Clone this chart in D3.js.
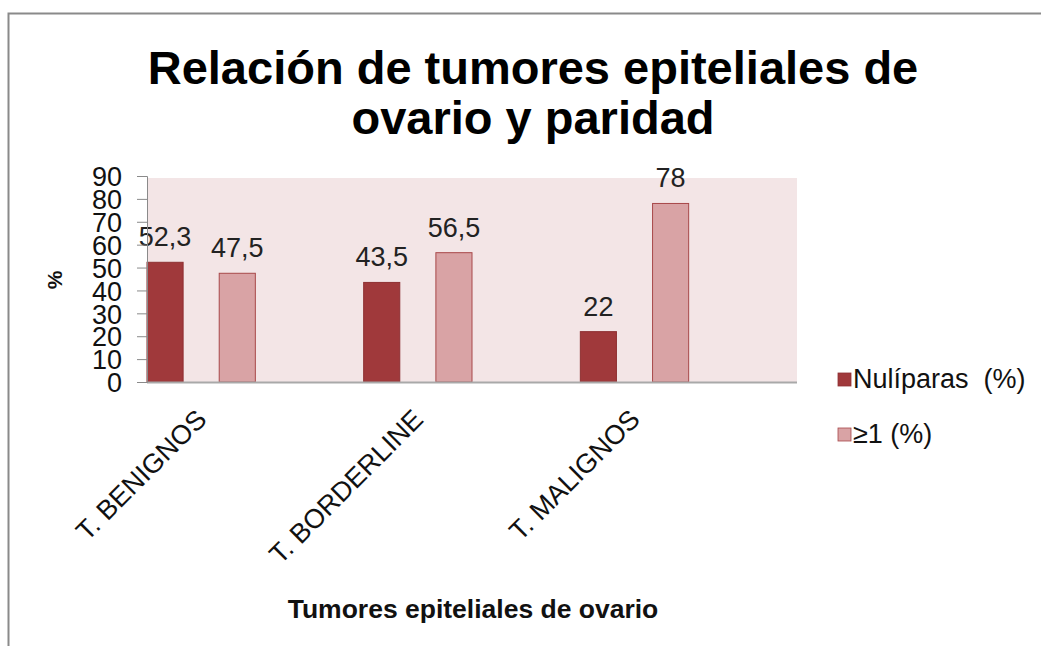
<!DOCTYPE html>
<html>
<head>
<meta charset="utf-8">
<script src="https://cdn.jsdelivr.net/npm/d3@7"></script>
<style>
  body { margin: 0; background: #fff; }
  svg text { font-family: "Liberation Sans", Arial, sans-serif; white-space: pre; }
</style>
</head>
<body>
<div id="chart"></div>
<script>
const categories = ['T. BENIGNOS', 'T. BORDERLINE', 'T. MALIGNOS'];
const seriesNames = ['Nulíparas  (%)', '≥1 (%)'];
const nuliparas = [52.3, 43.5, 22];
const unoOMas = [47.5, 56.5, 78];
const valueLabels = [['52,3', '43,5', '22'], ['47,5', '56,5', '78']];
const yTicks = [0, 10, 20, 30, 40, 50, 60, 70, 80, 90];

const colors = ['#A0393B', '#D9A3A5'];
const strokes = ['#8E3032', '#A8484A'];

const width = 1041;
const height = 646;
const plot = { left: 147, right: 797, top: 176, bottom: 382 };

const svg = d3.select('#chart')
  .append('svg')
  .attr('width', width)
  .attr('height', height);

// outer frame (only top and left edges visible)
svg.append('path')
  .attr('d', `M8.5,${height} V13.5 H${width}`)
  .attr('fill', 'none')
  .attr('stroke', '#8a8a8a')
  .attr('stroke-width', 2);

const x0 = d3.scaleBand()
  .domain(categories)
  .range([plot.left, plot.right])
  .padding(0);

const x1 = d3.scaleBand()
  .domain(seriesNames)
  .range([0, x0.bandwidth() / 2])
  .paddingInner(0.5)
  .paddingOuter(0);

const y = d3.scaleLinear()
  .domain([0, 90])
  .range([plot.bottom, plot.top]);

// plot background
svg.append('rect')
  .attr('x', plot.left)
  .attr('y', y(90) + 2)
  .attr('width', plot.right - plot.left)
  .attr('height', y(0) - y(90) - 2)
  .attr('fill', '#F3E5E6');

// bars
const series = [nuliparas, unoOMas];
series.forEach((vals, si) => {
  svg.append('g')
    .selectAll('rect')
    .data(categories)
    .enter()
    .append('rect')
    .attr('x', (c) => x0(c) + x1(seriesNames[si]))
    .attr('y', (c, i) => y(vals[i]))
    .attr('width', x1.bandwidth())
    .attr('height', (c, i) => y(0) - y(vals[i]))
    .attr('fill', colors[si])
    .attr('stroke', strokes[si])
    .attr('stroke-width', 1);

  svg.append('g')
    .selectAll('text')
    .data(categories)
    .enter()
    .append('text')
    .attr('x', (c) => x0(c) + x1(seriesNames[si]) + x1.bandwidth() / 2)
    .attr('y', (c, i) => y(vals[i]) - 16)
    .attr('text-anchor', 'middle')
    .attr('font-size', 27)
    .attr('fill', '#222')
    .text((c, i) => valueLabels[si][i]);
});

// bottom axis line
svg.append('line')
  .attr('x1', plot.left)
  .attr('x2', plot.right)
  .attr('y1', y(0) + 0.5)
  .attr('y2', y(0) + 0.5)
  .attr('stroke', '#a9a9a9')
  .attr('stroke-width', 2);

// y axis
const yAxis = svg.append('g')
  .attr('transform', `translate(${plot.left},0)`)
  .call(d3.axisLeft(y).tickValues(yTicks).tickSize(10).tickPadding(15));
yAxis.select('.domain').attr('stroke', '#8a8a8a');
yAxis.selectAll('.tick line').attr('stroke', '#8a8a8a');
yAxis.selectAll('.tick text')
  .attr('font-size', 27)
  .attr('font-family', '"Liberation Sans", Arial, sans-serif')
  .attr('fill', '#111')
  .attr('dy', '0.36em');

// category labels
svg.append('g')
  .selectAll('text')
  .data(categories)
  .enter()
  .append('text')
  .attr('transform', (c) => `translate(${x0(c) + x0.bandwidth() / 4 + 7},421) rotate(-45)`)
  .attr('text-anchor', 'end')
  .attr('font-size', 27)
  .attr('fill', '#111')
  .text((c) => c);

// y axis title
svg.append('text')
  .attr('transform', 'translate(62,280) rotate(-90)')
  .attr('text-anchor', 'middle')
  .attr('font-size', 21)
  .attr('font-weight', 'bold')
  .attr('fill', '#111')
  .text('%');

// x axis title
svg.append('text')
  .attr('x', 473)
  .attr('y', 618)
  .attr('text-anchor', 'middle')
  .attr('font-size', 26.5)
  .attr('font-weight', 'bold')
  .attr('fill', '#111')
  .text('Tumores epiteliales de ovario');

// title
const titleLines = ['Relación de tumores epiteliales de', 'ovario y paridad'];
svg.append('g')
  .selectAll('text')
  .data(titleLines)
  .enter()
  .append('text')
  .attr('x', 533)
  .attr('y', (d, i) => 84 + i * 50)
  .attr('text-anchor', 'middle')
  .attr('font-size', 47)
  .attr('font-weight', 'bold')
  .attr('fill', '#000')
  .text((d) => d);

// legend
const legend = svg.append('g')
  .selectAll('g')
  .data(seriesNames)
  .enter()
  .append('g')
  .attr('transform', (d, i) => `translate(838,${373 + i * 55})`);
legend.append('rect')
  .attr('width', 13)
  .attr('height', 13)
  .attr('fill', (d, i) => colors[i])
  .attr('stroke', (d, i) => strokes[i])
  .attr('stroke-width', 0.8);
legend.append('text')
  .attr('x', 15)
  .attr('y', 15)
  .attr('font-size', 27)
  .attr('fill', '#111')
  .text((d) => d);
</script>
</body>
</html>
